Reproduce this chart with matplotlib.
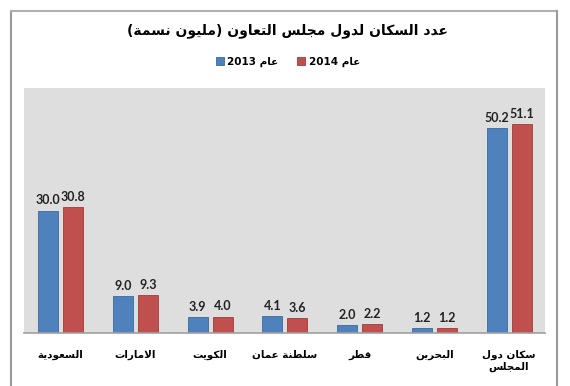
import numpy as np
import matplotlib.pyplot as plt
from matplotlib.lines import Line2D

# Data
categories = ['السعودية', 'الامارات', 'الكويت', 'سلطنة عمان', 'قطر', 'البحرين', 'سكان دول\nالمجلس']
pop_2013 = [30.0, 9.0, 3.9, 4.1, 2.0, 1.2, 50.2]
pop_2014 = [30.8, 9.3, 4.0, 3.6, 2.2, 1.2, 51.1]
series_labels = ['2013', '2014']
title_text = 'عدد السكان لدول مجلس التعاون (مليون نسمة)'
year_word = 'عام'

# Arabic shaping by hand (presentation forms B): isolated, final, initial, medial
FORMS = {
    'ا': ('\uFE8D', '\uFE8E', None, None),
    'ب': ('\uFE8F', '\uFE90', '\uFE91', '\uFE92'),
    'ة': ('\uFE93', '\uFE94', None, None),
    'ت': ('\uFE95', '\uFE96', '\uFE97', '\uFE98'),
    'ج': ('\uFE9D', '\uFE9E', '\uFE9F', '\uFEA0'),
    'ح': ('\uFEA1', '\uFEA2', '\uFEA3', '\uFEA4'),
    'د': ('\uFEA9', '\uFEAA', None, None),
    'ر': ('\uFEAD', '\uFEAE', None, None),
    'س': ('\uFEB1', '\uFEB2', '\uFEB3', '\uFEB4'),
    'ط': ('\uFEC1', '\uFEC2', '\uFEC3', '\uFEC4'),
    'ع': ('\uFEC9', '\uFECA', '\uFECB', '\uFECC'),
    'ق': ('\uFED5', '\uFED6', '\uFED7', '\uFED8'),
    'ك': ('\uFED9', '\uFEDA', '\uFEDB', '\uFEDC'),
    'ل': ('\uFEDD', '\uFEDE', '\uFEDF', '\uFEE0'),
    'م': ('\uFEE1', '\uFEE2', '\uFEE3', '\uFEE4'),
    'ن': ('\uFEE5', '\uFEE6', '\uFEE7', '\uFEE8'),
    'و': ('\uFEED', '\uFEEE', None, None),
    'ي': ('\uFEF1', '\uFEF2', '\uFEF3', '\uFEF4'),
}


def shape(text):
    out = []
    prev_join = False
    i = 0
    while i < len(text):
        c = text[i]
        if c == 'ل' and i + 1 < len(text) and text[i + 1] == 'ا':
            out.append('\uFEFC' if prev_join else '\uFEFB')
            prev_join = False
            i += 2
            continue
        if c not in FORMS:
            out.append(c)
            prev_join = False
            i += 1
            continue
        iso, fin, ini, med = FORMS[c]
        nxt = text[i + 1] if i + 1 < len(text) else ''
        next_ar = nxt in FORMS
        if prev_join and next_ar and ini:
            out.append(med)
        elif prev_join:
            out.append(fin)
        elif next_ar and ini:
            out.append(ini)
        else:
            out.append(iso)
        prev_join = ini is not None
        i += 1
    return out


def ar(text):
    lines = []
    for line in text.split('\n'):
        s = ''.join(reversed(shape(line)))
        lines.append(s.translate(str.maketrans('()', ')(')))
    return '\n'.join(lines)


blue = '#4F81BD'
red = '#C0504D'

fig = plt.figure(figsize=(5.7, 3.86), dpi=100)
ax = fig.add_axes([24 / 570, 1 - 333 / 386, 521 / 570, 245 / 386])
ax.set_facecolor('#dedede')

x = np.arange(len(categories))
w = 0.27
off = 0.167
b1 = ax.bar(x - off, pop_2013, w, color=blue, edgecolor='#3a6a9e', linewidth=0.6,
            label=series_labels[0] + ' ' + ar(year_word))
b2 = ax.bar(x + off, pop_2014, w, color=red, edgecolor='#9e3c3a', linewidth=0.6,
            label=series_labels[1] + ' ' + ar(year_word))

for bars, vals in ((b1, pop_2013), (b2, pop_2014)):
    for rect, v in zip(bars, vals):
        ax.annotate('%.1f' % v, (rect.get_x() + rect.get_width() / 2, rect.get_height()),
                    xytext=(0, 3), textcoords='offset points', ha='center', va='bottom',
                    fontsize=9, fontweight='bold', family='Lato', color='#222222')

ax.set_xlim(-0.49, 6.48)
ax.set_ylim(0, 60)
ax.set_yticks([])
ax.set_xticks(x)
ax.set_xticklabels([ar(c) for c in categories], fontsize=7.5, fontweight='bold', family='DejaVu Sans')
ax.tick_params(axis='x', length=0, pad=12)
for s in ['left', 'right', 'top']:
    ax.spines[s].set_visible(False)
ax.spines['bottom'].set_color('#a0a0a0')
ax.spines['bottom'].set_linewidth(1.2)

fig.text(0.505, 1 - 31 / 386, ar(title_text), ha='center', va='center',
         fontsize=10, fontweight='bold', family='DejaVu Sans')

fig.legend(handles=[b1, b2], loc='center', bbox_to_anchor=(0.505, 1 - 62 / 386), ncol=2,
           frameon=False, prop={'weight': 'bold', 'size': 7.5, 'family': 'DejaVu Sans'},
           handlelength=0.8, handleheight=0.8, handletextpad=0.3, columnspacing=1.8)

# outer frame
fig.add_artist(Line2D([11 / 570, 11 / 570], [0, 1 - 11 / 386], color='#9a9a9a', lw=1.5))
fig.add_artist(Line2D([11 / 570, 557 / 570], [1 - 11 / 386, 1 - 11 / 386], color='#b0b0b0', lw=1.5))
fig.add_artist(Line2D([557 / 570, 557 / 570], [0, 1 - 11 / 386], color='#9a9a9a', lw=1.5))

fig.savefig('out.png', dpi=100)
